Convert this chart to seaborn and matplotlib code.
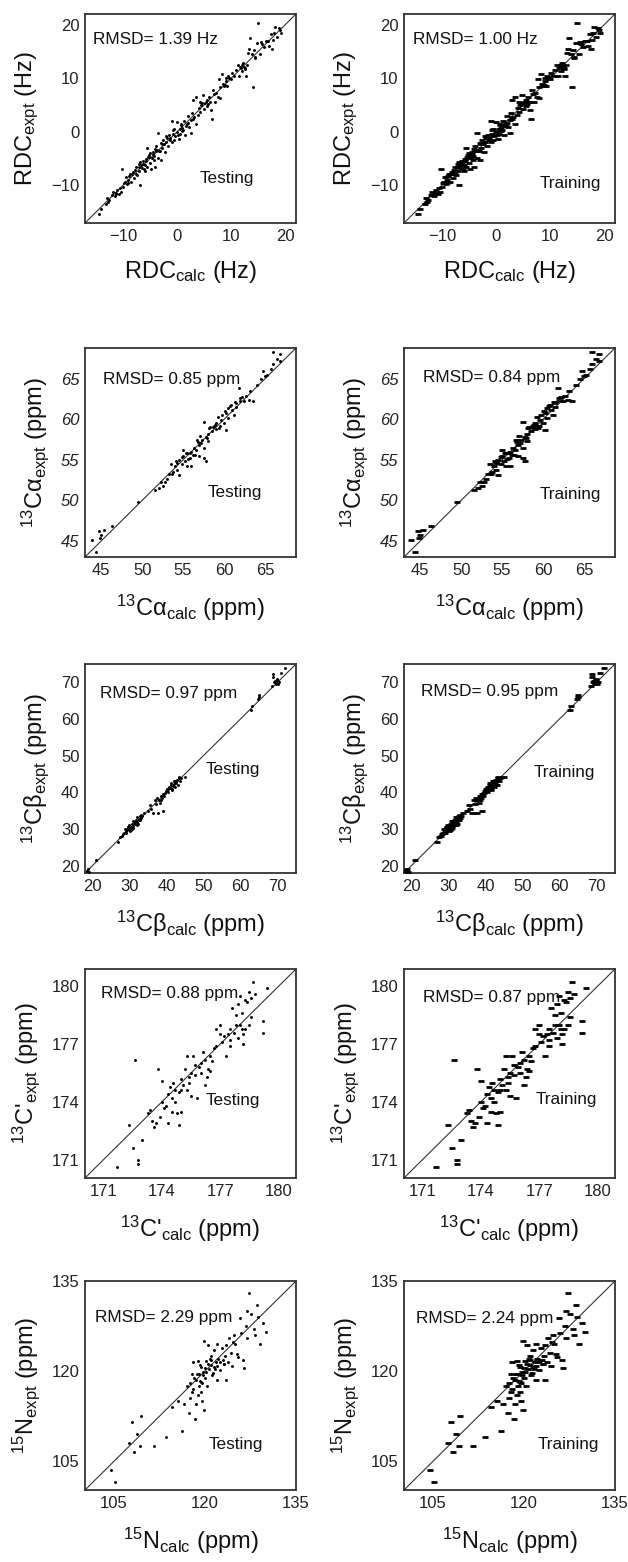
import numpy as np
import pandas as pd
import matplotlib
matplotlib.use("Agg")
import matplotlib.pyplot as plt
import seaborn as sns

# ---------------- data ----------------
rdc_calc = [-14.5,-14,-13.2,-13,-12.5,-12,-11.8,-11.5,-11.2,-11,-10.8,-10.5,-10.3,-10,-10.2,-9.8,-9.5,-9.2,-9,-8.8,
            -8.5,-8.3,-8,-7.8,-7.5,-7.3,-7,-7,-6.8,-6.9,-6.5,-6.3,-6,-6,-5.8,-5.5,-5.5,-5.3,-5,-5,
            -4.8,-4.5,-4.3,-4.2,-4,-4,-3.8,-3.5,-3.5,-3.3,-3,-3,-2.8,-2.5,-2.3,-2,-2,-1.7,-1.5,-1.3,
            -1,-1,-0.8,-0.5,-0.5,-0.3,0,0,0.3,0.5,0.5,0.8,1,1.3,1.5,1.8,2,2.2,2.5,2.5,
            2.8,3,3.2,3.5,3.5,4,4.3,4.5,4.8,5,5.3,5.5,5.8,6,6.3,6.5,6.6,7,7.3,7.5,
            7.8,8,8,8.3,8.5,8.8,9,9.3,9.5,10,10.5,11,11.3,11.5,11.8,12,12.2,12.5,12.8,13,
            13.3,13.5,13.8,14,14.2,14.5,14.7,15,15.3,15.5,16,16.5,17,17.3,17.5,18,18.5,19,19.3,18.8,
            -6.2,-5.2,-4.6,-3.9,-2.7,-1.2,0.9,1.6,4.6,5.6,9.7,12.3,
            -12.8,-11.3,-9.6,-8.6,-8.1,-7.6,-7.1,-6.6,-5.7,-5.1,-4.4,-3.7,-3.1,-2.4,-1.8,-0.7,0.2,0.7,1.2,2.1,
            2.9,3.8,4.2,5.1,6.1,6.8,8.6,9.1,10.2,11.7,12.1,12.6,13.1,14.4,15.8,16.8,17.8,18.2,-9.1,-6.1]
rdc_expt = [-15.3,-14.3,-13.5,-12.3,-12.8,-11.8,-11.2,-12,-11.5,-10.8,-11.6,-10.5,-11.2,-10.3,-7,-9.6,-8.5,-9.8,-9,-8.2,
            -9.4,-7.8,-8.6,-7.2,-6.5,-8,-7.3,-6,-5.6,-10,-6.8,-5.5,-7.3,-6.2,-5,-6.5,-3,-4.6,-5.8,-4,
            -7,-3.8,-5.3,-4.5,-3.2,-6.5,-2.6,-4.8,-0.2,-3.5,-2,-5.2,-3,-1.5,-3.8,-1.8,-0.8,-2.7,-0.5,-1.2,
            2,-1.8,-0.3,-1.5,0.6,-0.8,0,1.8,-1.3,0.5,-0.4,1.2,0.2,2,-0.5,1.5,3,1,2.2,-0.2,
            3.5,6,2.7,6.5,1.5,4.5,3.8,5,6.8,4.2,5.5,4.8,5.2,6.5,4,2.5,7.8,5.5,7.2,6.5,
            9.8,8.3,6.3,10.8,9,8.8,9.5,8.5,10.5,9.8,10.4,11.5,12.5,10.5,12,11.3,12.8,11.8,10.5,12.5,
            15.5,17.5,14.5,8.3,15.2,14,16.5,20.3,14.5,16.8,15.8,17,16,18.3,15.5,18.5,17.8,19,18.5,19.3,
            -5.9,-4.4,-4.9,-3.6,-2.2,-1.6,0.8,1.1,5.4,5.9,10.1,12.1,
            -13,-11.4,-9.3,-7.9,-7.5,-7.8,-6.6,-6.1,-5.4,-4.6,-4.2,-3.3,-3.6,-2.3,-1.2,0.3,-0.6,1.5,0.4,1.7,
            2.4,3.2,5.6,5.3,5.6,7.1,8.6,10.1,10.9,12.2,12.5,12,14.8,13.8,16.4,16.9,17.2,19.6,-9.5,-6.9]

ca_calc = [44.3,43.9,44.7,45,45.3,44.8,46.3,49.5,51.5,52,52.3,52.5,53,53.3,53.5,53.8,54,54.2,54.5,54.5,
           54.8,55,55,55.2,55.5,55.5,55.8,56,56,56.3,56.5,56.8,57,57,57.3,57.5,57.5,57.8,57.5,57.8,
           58,58,58.3,58.5,58.8,59,59,59.3,59.5,59.8,60,60.2,60.3,60.5,60.5,60.8,61,61.2,61.5,61.5,
           61.8,62,62.2,62.5,63,63.5,63.2,64,64.5,64.8,65,65.3,66,66,66.5,66.8,66.9,
           55.3,56.6,58.6,59.6,60.1,54.1,57.1,
           54.3,54.9,55.6,56.2,56.7,57.2,57.9,58.2,58.9,59.4,60.7,61.3,61.9,62.7,65.8,53.6,52.8,55.8]
ca_expt = [43.6,45.1,46.2,45.7,46.3,45.3,46.8,49.8,51.3,51.5,52.2,51.8,52.6,53.2,54.5,53.5,54.2,53.8,55,53.1,
           54.5,55.5,56.2,54.8,54.2,55.8,55.2,56,54.2,56.5,55.6,57.2,56.8,55.5,57.5,56.4,59.7,57.8,55.2,54.9,
           58.2,57.3,59,58.6,59.2,58.8,59.5,60.3,59.2,60.5,59.6,58.7,60.8,61.4,60.2,61.8,61.2,60.5,62,61.5,
           63.9,62.3,62.8,62.3,62.4,62.3,63.5,64.2,65,66,65.3,65.5,66.8,68.3,67.5,68,67.2,
           55.9,56.2,59.1,59.9,61,54.9,57.9,
           54.6,55.3,55.1,55.6,57.5,57.1,57.7,58.9,59.3,58.9,61.6,62.1,62.6,62.9,66.2,53.3,52.3,55.9]

cb_calc = [18.5,18.8,19,21,27,27.5,28,28.5,28.8,29,29.2,29.5,29.8,30,30,30.3,30.5,30.8,31,31,
           31.3,31.5,31.8,32,32,32.3,32.5,32.8,33,33.5,34,35,35.5,35.8,36.5,37,37.3,37.5,37.8,38,
           38.2,38.5,38.8,39,39,39.5,40,40.3,40.5,40.8,41,41.2,41.5,41.8,42,42.2,42.5,42.8,43,43.3,
           43.5,44,45,62.8,63,64.8,65,68.5,68.7,68.8,69,69.3,69.5,69.8,70,70.2,70.5,71,72,
           29.4,30.6,31.6,32.6,40.6,41.6,42.4,
           29.7,30.2,30.9,31.4,32.1,32.8,33.2,38.6,39.3,40.1,41.3,42.1,42.7,43.7,28.3,69.6,64.9]
cb_expt = [18.5,19,18.3,21.5,26.5,27.8,28.2,29,30,29.5,28.8,30.5,29.6,30.2,31,29.8,30.5,31.5,30.8,32.3,
           32,31.3,32.5,32,33.2,31.5,32.8,33.5,33,33.5,34.5,35,36.5,35.5,34.5,37.8,36.8,38.5,34.5,38,
           37.2,39,38.4,35,39.5,39.8,40.3,41,40,41.5,41.2,42.5,40.8,41.8,43,41.5,42.5,43.5,42,43.8,
           44.2,43.8,44.3,62.5,63.5,65.5,66.5,69,72.2,71.5,70,70.3,69.5,70.5,71,69.5,70,72.5,73.8,
           30.1,30.1,32.2,32.4,41.1,40.6,43.2,
           30.6,29.4,30.4,31.8,31.2,32.4,33.9,37.8,39.1,40.9,41.9,42.2,43.1,43.2,28.7,69.8,65.9]

co_calc = [171.7,172.3,172.5,172.6,172.8,172.8,173,173.3,173.6,173.5,173.7,173.8,173.9,174,174,174.2,174.3,174.3,174.5,174.5,
           174.6,174.8,174.9,174.9,175,175,175.1,175.2,175.3,175.3,175.5,175.5,175.6,175.7,175.8,175.9,176,176.2,176.2,176.3,
           176.4,176.5,176.5,176.7,176.8,177,177,177.2,177.3,177.5,177.5,177.6,177.7,177.8,177.9,177.9,178,178,178.1,178.2,
           178.2,178.3,178.4,178.5,178.5,178.6,178.7,178.8,179.2,179.2,179.4,177.5,176.8,
           174.1,174.7,175.4,176.1,178.3,177.4,
           174.4,175.0,175.7,176.0,176.6,177.1,177.8,178.6,178.1,175.4,174.7,173.4]
co_expt = [170.6,172.8,171.6,176.2,171,170.8,172,173.4,172.7,173,172.9,175.7,173.2,175.1,174,173.8,172.9,174.4,173.5,174.2,
           175,173.4,174.5,172.8,173.5,175.2,174.9,175.7,174.6,176.4,175.5,174.3,176.4,175.4,174.2,175.8,176,174.9,176.2,175.3,
           175.7,176.4,175.6,176.8,176.9,177.5,178,177.4,176.4,177.8,177.2,178.9,177.6,178.5,177.3,179.1,179.5,178,178.6,177.5,
           177,179.3,179.2,178,179.7,179.4,180.2,179.6,178.2,177.6,179.9,176.9,177.8,
           173.7,174.6,175.3,176.6,177.8,177.5,
           174.8,174.6,175.9,175.5,176.1,177.1,178.0,178.4,177.8,175.0,174.0,173.6]

n_calc = [104.5,105.2,107.5,108,108.3,108.8,109.3,109.5,111.5,113.5,114.5,115.5,116.5,116.2,117,117.3,117.5,117.8,118,118.3,
          118.5,118.5,118.8,119,119,119.2,119.3,119.5,119.5,119.7,119.8,120,120,120.2,120.3,120.5,120.7,121,121,121.3,
          121.5,121.5,121.8,122,122.2,122.5,122.8,123,123.3,123.5,123.8,124,124.2,124.5,124.8,125,125.2,125.5,126,126.3,
          126.7,127,127,127.3,127.5,128,128.3,128.5,128.8,129,129.5,130,126.5,119.8,120.5,118,117.5,122,123.5,125.8,
          119.4,120.9,118.7,121.7,123.1,
          118.2,119.1,119.6,120.1,120.8,121.2,122.4,123.2,124.6,119.3,117.9,118.9,121.9]
n_expt = [103.5,101.5,108,111.5,106.5,109.5,107.5,112.5,107.5,109,114,115,114.5,110,117.5,113,115.5,116.5,117,112,
          118.5,114.5,116,119.5,117.5,121,116.5,118,115,119.3,113.5,120.5,118.8,119.8,117.5,121.2,120.3,122.5,121,119.7,
          123.5,120.7,121.5,124.5,122,120.2,123.8,121.8,122.5,124.3,121.5,125.5,123,120.8,126,124.5,122.8,122.3,126.3,121.8,
          127.5,130,125.5,133,129.5,127,126,131,129,124.5,128,126.5,120.5,125,124.3,121.5,118,118.5,118.5,128.8,
          118.2,121.8,119.5,120.4,121.2,
          118.9,118.3,119.9,121.6,122.0,119.4,121.5,121.1,124.8,120.6,119.5,121.7,120.9]

rows = [
    dict(calc=rdc_calc, expt=rdc_expt, lim=(-17, 22), ticks=[-10, 0, 10, 20],
         ylab=r"RDC$_{\mathrm{expt}}$ (Hz)", xlab=r"RDC$_{\mathrm{calc}}$ (Hz)",
         rmsd=("RMSD= 1.39 Hz", "RMSD= 1.00 Hz"),
         rpos=((0.04, 0.88), (0.045, 0.876)), lpos=((0.67, 0.214), (0.79, 0.19))),
    dict(calc=ca_calc, expt=ca_expt, lim=(43, 68.8), ticks=[45, 50, 55, 60, 65],
         ylab=r"$^{13}$Cα$_{\mathrm{expt}}$ (ppm)", xlab=r"$^{13}$Cα$_{\mathrm{calc}}$ (ppm)",
         rmsd=("RMSD= 0.85 ppm", "RMSD= 0.84 ppm"),
         rpos=((0.085, 0.848), (0.09, 0.857)), lpos=((0.71, 0.31), (0.79, 0.30))),
    dict(calc=cb_calc, expt=cb_expt, lim=(18, 75), ticks=[20, 30, 40, 50, 60, 70],
         ylab=r"$^{13}$Cβ$_{\mathrm{expt}}$ (ppm)", xlab=r"$^{13}$Cβ$_{\mathrm{calc}}$ (ppm)",
         rmsd=("RMSD= 0.97 ppm", "RMSD= 0.95 ppm"),
         rpos=((0.07, 0.857), (0.08, 0.867)), lpos=((0.70, 0.495), (0.76, 0.48))),
    dict(calc=co_calc, expt=co_expt, lim=(170.05, 180.9), ticks=[171, 174, 177, 180],
         ylab=r"$^{13}$C'$_{\mathrm{expt}}$ (ppm)", xlab=r"$^{13}$C'$_{\mathrm{calc}}$ (ppm)",
         rmsd=("RMSD= 0.88 ppm", "RMSD= 0.87 ppm"),
         rpos=((0.075, 0.885), (0.09, 0.865)), lpos=((0.70, 0.37), (0.77, 0.375))),
    dict(calc=n_calc, expt=n_expt, lim=(100.2, 135), ticks=[105, 120, 135],
         ylab=r"$^{15}$N$_{\mathrm{expt}}$ (ppm)", xlab=r"$^{15}$N$_{\mathrm{calc}}$ (ppm)",
         rmsd=("RMSD= 2.29 ppm", "RMSD= 2.24 ppm"),
         rpos=((0.047, 0.827), (0.056, 0.82)), lpos=((0.717, 0.216), (0.78, 0.216))),
]

# ---------------- style ----------------
sns.set_style("white")
plt.rcParams["font.family"] = ["Liberation Sans", "DejaVu Sans"]
plt.rcParams["mathtext.fontset"] = "custom"
plt.rcParams["mathtext.rm"] = "Liberation Sans"
plt.rcParams["mathtext.it"] = "Liberation Sans:italic"
plt.rcParams["mathtext.bf"] = "Liberation Sans:bold"

W, H = 628, 1562
fig = plt.figure(figsize=(W / 100, H / 100), dpi=100)

tops = [14, 348, 664, 969, 1281]
lefts = [85, 404]
aw, ah = 211, 209

for r, row in enumerate(rows):
    df = pd.DataFrame({"calc": row["calc"], "expt": row["expt"]})
    for c in range(2):
        ax = fig.add_axes([lefts[c] / W, 1 - (tops[r] + ah) / H, aw / W, ah / H])
        if c == 0:
            sns.scatterplot(data=df, x="calc", y="expt", ax=ax, color="black",
                            marker="o", s=4.5, linewidth=0, legend=False, zorder=3)
        else:
            sns.scatterplot(data=df, x="calc", y="expt", ax=ax, color="black",
                            marker="_", s=15, linewidth=2.0, legend=False, zorder=3)
        lo, hi = row["lim"]
        ax.set_xlim(lo, hi)
        ax.set_ylim(lo, hi)
        ax.axline((lo, lo), slope=1, color="#333333", lw=0.8, zorder=2)
        ax.set_xticks(row["ticks"])
        ax.set_yticks(row["ticks"])
        ax.tick_params(direction="in", length=3, width=0.8, labelsize=12,
                       colors="#222222", pad=4)
        for sp in ax.spines.values():
            sp.set_linewidth(1.3)
            sp.set_color("#333333")
        if r == 1:
            for t in ax.get_yticklabels():
                t.set_fontstyle("italic")
        ax.set_xlabel(row["xlab"], fontsize=17, labelpad=11, color="#111111")
        ax.set_ylabel(row["ylab"], fontsize=17, labelpad=7, color="#111111")
        rx, ry = row["rpos"][c]
        ax.text(rx, ry, row["rmsd"][c], transform=ax.transAxes, fontsize=12.4,
                ha="left", va="center", color="#111111")
        lx, ly = row["lpos"][c]
        ax.text(lx, ly, "Testing" if c == 0 else "Training", transform=ax.transAxes,
                fontsize=12.3, ha="center", va="center", color="#111111")

fig.savefig("out.png", dpi=100)
